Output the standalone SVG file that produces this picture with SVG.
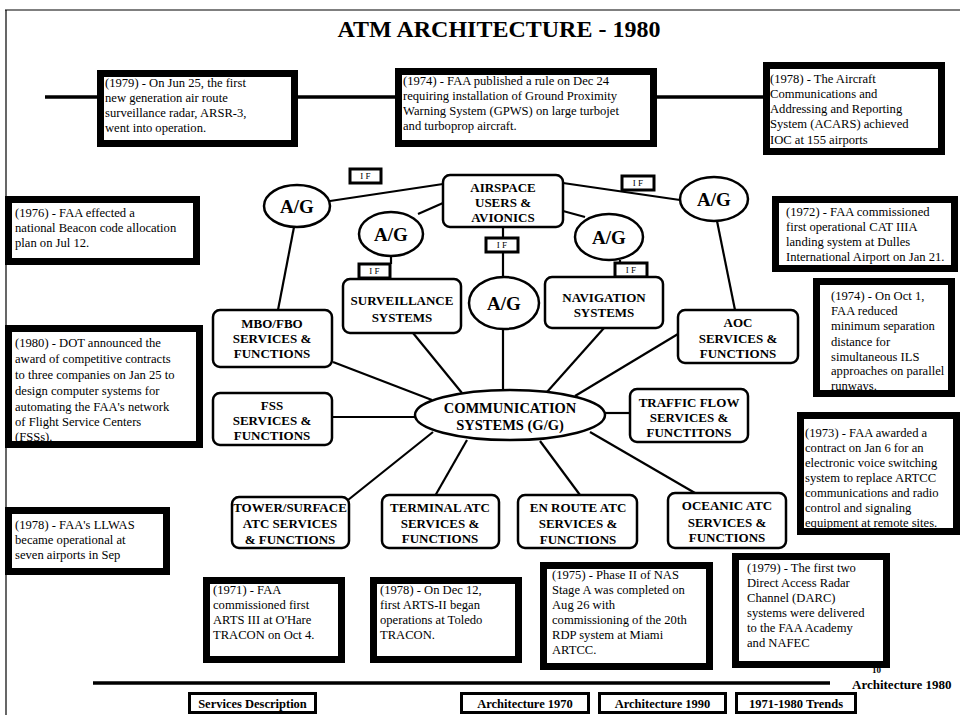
<svg xmlns="http://www.w3.org/2000/svg" width="960" height="715" viewBox="0 0 960 715">
<style>
.bg{fill:#fff}
.frame{stroke:#000;stroke-width:1.2;fill:none}
.tb{fill:#fff;stroke:#000;stroke-width:7}
.t{font-family:"Liberation Serif","Times New Roman",serif;font-size:12.6px;fill:#000}
.node{fill:#fff;stroke:#000;stroke-width:2.5}
.nt{font-family:"Liberation Serif","Times New Roman",serif;font-weight:bold;font-size:13px;text-anchor:middle;fill:#000}
.ag{font-family:"Liberation Serif","Times New Roman",serif;font-weight:bold;font-size:19px;text-anchor:middle;fill:#000}
.ifr{fill:#fff;stroke:#000;stroke-width:3}
.ift{font-family:"Liberation Serif","Times New Roman",serif;font-size:9px;text-anchor:middle;fill:#000}
.conn line{stroke:#000;stroke-width:2.2}
.tl{stroke:#000;stroke-width:3.5}
.btn{fill:#fff;stroke:#000;stroke-width:3}
.bt{font-family:"Liberation Serif","Times New Roman",serif;font-weight:bold;font-size:12.5px;text-anchor:middle;fill:#000}
.title{font-family:"Liberation Serif","Times New Roman",serif;font-weight:bold;font-size:24px;text-anchor:middle;fill:#000}
</style>
<rect class="bg" x="0" y="0" width="960" height="715"/>
<g id="frame">
<line class="frame" x1="5" y1="10" x2="960" y2="10"/>
<line class="frame" x1="6" y1="10" x2="6" y2="715"/>
</g>
<text class="title" x="499" y="37">ATM ARCHITECTURE - 1980</text>

<g id="timelines">
<line class="tl" x1="45" y1="97" x2="97" y2="97"/>
<line class="tl" x1="298" y1="97" x2="395" y2="97"/>
<line class="tl" x1="657" y1="97" x2="763" y2="97"/>
<line class="tl" x1="93" y1="683" x2="830" y2="683"/>
</g>

<g id="connectors" class="conn">
<line x1="330" y1="201" x2="443" y2="184"/>
<line x1="418" y1="214" x2="443" y2="203"/>
<line x1="563" y1="183" x2="680" y2="200"/>
<line x1="563" y1="211" x2="585" y2="217"/>
<line x1="503" y1="227" x2="503" y2="277"/>
<line x1="391" y1="256" x2="391" y2="264"/>
<line x1="620" y1="260" x2="620" y2="264"/>
<line x1="294" y1="227" x2="278" y2="310"/>
<line x1="717" y1="221" x2="735" y2="310"/>
<line x1="503" y1="329" x2="503" y2="390"/>
<line x1="413" y1="333" x2="462" y2="393"/>
<line x1="604" y1="328" x2="547" y2="392"/>
<line x1="333" y1="362" x2="432" y2="400"/>
<line x1="678" y1="334" x2="575" y2="396"/>
<line x1="332" y1="417" x2="415" y2="417"/>
<line x1="605" y1="413" x2="630" y2="413"/>
<line x1="433" y1="432" x2="348" y2="500"/>
<line x1="467" y1="440" x2="435" y2="496"/>
<line x1="540" y1="441" x2="580" y2="495"/>
<line x1="590" y1="432" x2="695" y2="493"/>
</g>

<g id="ev1979a"><rect class="tb" x="100.5" y="73.5" width="194" height="70"/>
<text class="t" x="105" y="87">(1979) - On Jun 25, the first</text>
<text class="t" x="105" y="102">new generation air route</text>
<text class="t" x="105" y="117">surveillance radar, ARSR-3,</text>
<text class="t" x="105" y="132">went into operation.</text></g>

<g id="ev1974a"><rect class="tb" x="398.5" y="71.5" width="255" height="72"/>
<text class="t" x="403" y="85">(1974) - FAA published a rule on Dec 24</text>
<text class="t" x="403" y="100">requiring installation of Ground Proximity</text>
<text class="t" x="403" y="115">Warning System (GPWS) on large turbojet</text>
<text class="t" x="403" y="130">and turboprop aircraft.</text></g>

<g id="ev1978a"><rect class="tb" x="766.5" y="65.5" width="175" height="86"/>
<text class="t" x="770" y="83">(1978) - The Aircraft</text>
<text class="t" x="770" y="98">Communications and</text>
<text class="t" x="770" y="113">Addressing and Reporting</text>
<text class="t" x="770" y="128">System (ACARS) achieved</text>
<text class="t" x="770" y="144">IOC at 155 airports</text></g>

<g id="ev1976"><rect class="tb" x="8.5" y="199.5" width="188" height="62"/>
<text class="t" x="15" y="217">(1976) - FAA effected a</text>
<text class="t" x="15" y="232">national Beacon code allocation</text>
<text class="t" x="15" y="247">plan on Jul 12.</text></g>

<g id="ev1980"><rect class="tb" x="8.5" y="328.5" width="191" height="116"/>
<text class="t" x="15" y="347">(1980) - DOT announced the</text>
<text class="t" x="15" y="363">award of competitive contracts</text>
<text class="t" x="15" y="379">to three companies on Jan 25 to</text>
<text class="t" x="15" y="395">design computer systems for</text>
<text class="t" x="15" y="411">automating the FAA's network</text>
<text class="t" x="15" y="426">of Flight Service Centers</text>
<text class="t" x="15" y="441">(FSSs).</text></g>

<g id="ev1978b"><rect class="tb" x="8.5" y="510.5" width="158" height="61"/>
<text class="t" x="15" y="529">(1978) - FAA's LLWAS</text>
<text class="t" x="15" y="544">became operational at</text>
<text class="t" x="15" y="559">seven airports in Sep</text></g>

<g id="ev1972"><rect class="tb" x="775.5" y="199.5" width="179" height="69"/>
<text class="t" x="786" y="216">(1972) - FAA commissioned</text>
<text class="t" x="786" y="231">first operational CAT IIIA</text>
<text class="t" x="786" y="246">landing system at Dulles</text>
<text class="t" x="786" y="261">International Airport on Jan 21.</text></g>

<g id="ev1974b"><rect class="tb" x="816.5" y="281.5" width="135" height="112"/>
<text class="t" x="831" y="300">(1974) - On Oct 1,</text>
<text class="t" x="831" y="315">FAA reduced</text>
<text class="t" x="831" y="330">minimum separation</text>
<text class="t" x="831" y="346">distance for</text>
<text class="t" x="831" y="361">simultaneous ILS</text>
<text class="t" x="831" y="375">approaches on parallel</text>
<text class="t" x="831" y="390">runways.</text></g>

<g id="ev1973"><rect class="tb" x="800.5" y="415.5" width="156" height="116"/>
<text class="t" x="805" y="437">(1973) - FAA awarded a</text>
<text class="t" x="805" y="452">contract on Jan 6 for an</text>
<text class="t" x="805" y="467">electronic voice switching</text>
<text class="t" x="805" y="482">system to replace ARTCC</text>
<text class="t" x="805" y="497">communications and radio</text>
<text class="t" x="805" y="512">control and signaling</text>
<text class="t" x="805" y="527">equipment at remote sites.</text></g>

<g id="ev1971"><rect class="tb" x="206.5" y="580.5" width="135" height="79"/>
<text class="t" x="213" y="594">(1971) - FAA</text>
<text class="t" x="213" y="609">commissioned first</text>
<text class="t" x="213" y="624">ARTS III at O'Hare</text>
<text class="t" x="213" y="639">TRACON on Oct 4.</text></g>

<g id="ev1978c"><rect class="tb" x="373.5" y="580.5" width="145" height="79"/>
<text class="t" x="380" y="594">(1978) - On Dec 12,</text>
<text class="t" x="380" y="609">first ARTS-II began</text>
<text class="t" x="380" y="624">operations at Toledo</text>
<text class="t" x="380" y="639">TRACON.</text></g>

<g id="ev1975"><rect class="tb" x="543.5" y="565.5" width="166" height="101"/>
<text class="t" x="552" y="579">(1975) - Phase II of NAS</text>
<text class="t" x="552" y="594">Stage A was completed on</text>
<text class="t" x="552" y="609">Aug 26 with</text>
<text class="t" x="552" y="624">commissioning of the 20th</text>
<text class="t" x="552" y="639">RDP system at Miami</text>
<text class="t" x="552" y="654">ARTCC.</text></g>

<g id="ev1979b"><rect class="tb" x="735.5" y="556.5" width="151" height="108"/>
<text class="t" x="747" y="572">(1979) - The first two</text>
<text class="t" x="747" y="587">Direct Access Radar</text>
<text class="t" x="747" y="602">Channel (DARC)</text>
<text class="t" x="747" y="617">systems were delivered</text>
<text class="t" x="747" y="632">to the FAA Academy</text>
<text class="t" x="747" y="647">and NAFEC</text></g>

<g id="airspace"><rect class="node" x="443" y="175" width="120" height="52" rx="7"/>
<text class="nt" x="503" y="192">AIRSPACE</text>
<text class="nt" x="503" y="207">USERS &amp;</text>
<text class="nt" x="503" y="222">AVIONICS</text></g>

<g id="ag1"><ellipse class="node" cx="297" cy="206" rx="33" ry="21"/><text class="ag" x="297" y="213">A/G</text></g>
<g id="ag2"><ellipse class="node" cx="391" cy="234" rx="32" ry="22"/><text class="ag" x="391" y="241">A/G</text></g>
<g id="ag3"><ellipse class="node" cx="504" cy="303" rx="35" ry="26"/><text class="ag" x="504" y="310">A/G</text></g>
<g id="ag4"><ellipse class="node" cx="609" cy="237" rx="34" ry="23"/><text class="ag" x="609" y="244">A/G</text></g>
<g id="ag5"><ellipse class="node" cx="714" cy="199" rx="34" ry="22"/><text class="ag" x="714" y="206">A/G</text></g>

<g id="if1"><rect class="ifr" x="350" y="169" width="31" height="14"/><text class="ift" x="365.5" y="179">I F</text></g>
<g id="if2"><rect class="ifr" x="622" y="176" width="32" height="14"/><text class="ift" x="638" y="186">I F</text></g>
<g id="if3"><rect class="ifr" x="486" y="238" width="32" height="14"/><text class="ift" x="502" y="248">I F</text></g>
<g id="if4"><rect class="ifr" x="359" y="264" width="31" height="14"/><text class="ift" x="374.5" y="274">I F</text></g>
<g id="if5"><rect class="ifr" x="615" y="263" width="32" height="14"/><text class="ift" x="631" y="273">I F</text></g>

<g id="surveillance"><rect class="node" x="343" y="279" width="118" height="54" rx="7"/>
<text class="nt" x="402" y="305">SURVEILLANCE</text>
<text class="nt" x="402" y="322">SYSTEMS</text></g>

<g id="navigation"><rect class="node" x="545" y="277" width="118" height="51" rx="7"/>
<text class="nt" x="604" y="302">NAVIGATION</text>
<text class="nt" x="604" y="317">SYSTEMS</text></g>

<g id="mbofbo"><rect class="node" x="213" y="310" width="119" height="57" rx="7"/>
<text class="nt" x="272" y="328">MBO/FBO</text>
<text class="nt" x="272" y="343">SERVICES &amp;</text>
<text class="nt" x="272" y="358">FUNCTIONS</text></g>

<g id="aoc"><rect class="node" x="678" y="310" width="120" height="53" rx="7"/>
<text class="nt" x="738" y="327">AOC</text>
<text class="nt" x="738" y="343">SERVICES &amp;</text>
<text class="nt" x="738" y="358">FUNCTIONS</text></g>

<g id="fss"><rect class="node" x="213" y="393" width="119" height="52" rx="7"/>
<text class="nt" x="272" y="410">FSS</text>
<text class="nt" x="272" y="425">SERVICES &amp;</text>
<text class="nt" x="272" y="440">FUNCTIONS</text></g>

<g id="traffic"><rect class="node" x="630" y="389" width="118" height="53" rx="7"/>
<text class="nt" x="689" y="407">TRAFFIC FLOW</text>
<text class="nt" x="689" y="422">SERVICES &amp;</text>
<text class="nt" x="689" y="437">FUNCTITONS</text></g>

<g id="comm"><ellipse class="node" cx="510" cy="415" rx="95" ry="25"/>
<text class="nt" x="510" y="413" style="font-size:14.5px">COMMUNICATION</text>
<text class="nt" x="510" y="430" style="font-size:14.5px">SYSTEMS (G/G)</text></g>

<g id="tower"><rect class="node" x="232" y="497" width="117" height="51" rx="7"/>
<text class="nt" x="290" y="512">TOWER/SURFACE</text>
<text class="nt" x="290" y="528">ATC  SERVICES</text>
<text class="nt" x="290" y="544">&amp; FUNCTIONS</text></g>

<g id="terminal"><rect class="node" x="382" y="495" width="117" height="53" rx="7"/>
<text class="nt" x="440" y="512">TERMINAL ATC</text>
<text class="nt" x="440" y="528">SERVICES &amp;</text>
<text class="nt" x="440" y="543">FUNCTIONS</text></g>

<g id="enroute"><rect class="node" x="518" y="495" width="119" height="53" rx="7"/>
<text class="nt" x="578" y="512">EN ROUTE ATC</text>
<text class="nt" x="578" y="528">SERVICES  &amp;</text>
<text class="nt" x="578" y="544">FUNCTIONS</text></g>

<g id="oceanic"><rect class="node" x="668" y="493" width="118" height="55" rx="7"/>
<text class="nt" x="727" y="510">OCEANIC ATC</text>
<text class="nt" x="727" y="527">SERVICES  &amp;</text>
<text class="nt" x="727" y="542">FUNCTIONS</text></g>

<g id="footer">
<text class="bt" x="852" y="689" style="text-anchor:start;font-size:13px">Architecture 1980</text>
<text class="bt" x="872" y="673" style="text-anchor:start;font-size:9px">10</text>
</g>

<g id="btn-services"><rect class="btn" x="189.5" y="693.5" width="126" height="19"/><text class="bt" x="252.5" y="708">Services Description</text></g>
<g id="btn-arch1970"><rect class="btn" x="461.5" y="693.5" width="127" height="19"/><text class="bt" x="525" y="708">Architecture 1970</text></g>
<g id="btn-arch1990"><rect class="btn" x="599.5" y="693.5" width="126" height="19"/><text class="bt" x="662.5" y="708">Architecture 1990</text></g>
<g id="btn-trends"><rect class="btn" x="736.5" y="693.5" width="119" height="19"/><text class="bt" x="796" y="708">1971-1980 Trends</text></g>
</svg>
